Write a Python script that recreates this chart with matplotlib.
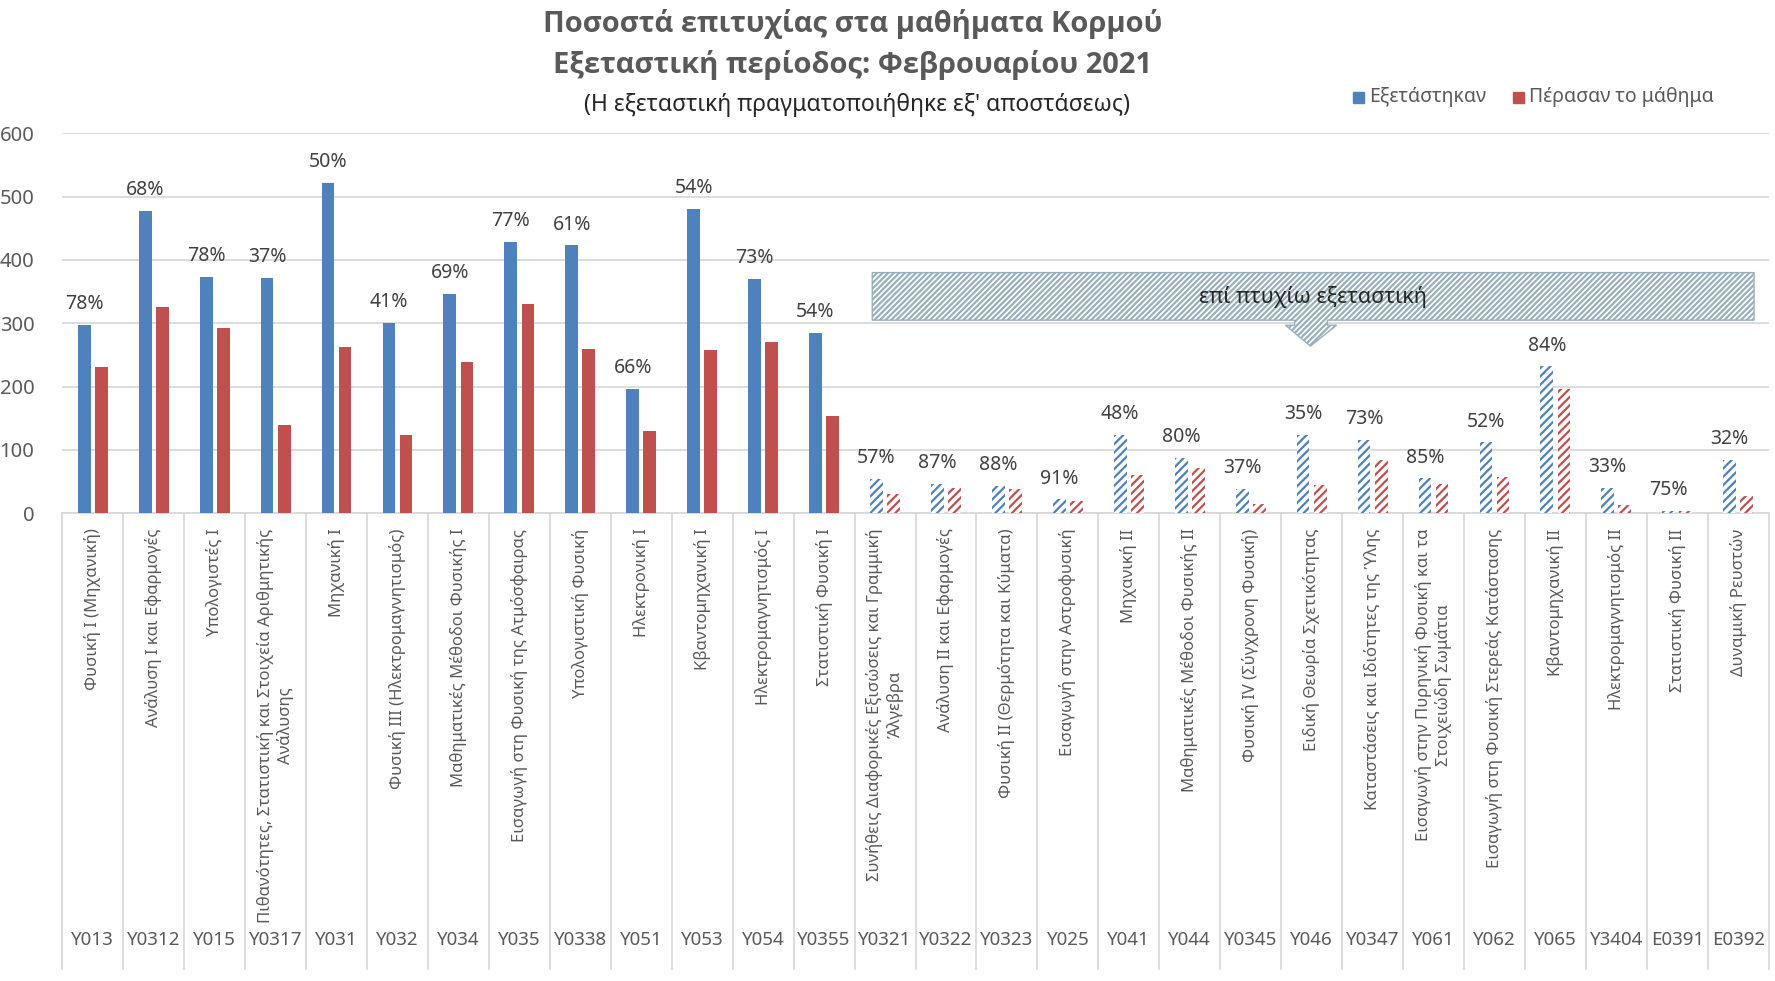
import matplotlib.pyplot as plt
from matplotlib.patches import Polygon, Rectangle
import matplotlib.transforms as mtransforms
import numpy as np

codes = ["Y013", "Y0312", "Y015", "Y0317", "Y031", "Y032", "Y034", "Y035",
         "Y0338", "Y051", "Y053", "Y054", "Y0355", "Y0321", "Y0322", "Y0323",
         "Y025", "Y041", "Y044", "Y0345", "Y046", "Y0347", "Y061", "Y062",
         "Y065", "Y3404", "E0391", "E0392"]
courses = [
    "Φυσική Ι (Μηχανική)",
    "Ανάλυση Ι και Εφαρμογές",
    "Υπολογιστές Ι",
    "Πιθανότητες, Στατιστική και Στοιχεία Αριθμητικής\nΑνάλυσης",
    "Μηχανική Ι",
    "Φυσική ΙΙΙ (Ηλεκτρομαγνητισμός)",
    "Μαθηματικές Μέθοδοι Φυσικής Ι",
    "Εισαγωγή στη Φυσική της Ατμόσφαιρας",
    "Υπολογιστική Φυσική",
    "Ηλεκτρονική Ι",
    "Κβαντομηχανική Ι",
    "Ηλεκτρομαγνητισμός Ι",
    "Στατιστική Φυσική Ι",
    "Συνήθεις Διαφορικές Εξισώσεις και Γραμμική\nΆλγεβρα",
    "Ανάλυση ΙΙ και Εφαρμογές",
    "Φυσική ΙΙ (Θερμότητα και Κύματα)",
    "Εισαγωγή στην Αστροφυσική",
    "Μηχανική ΙΙ",
    "Μαθηματικές Μέθοδοι Φυσικής ΙΙ",
    "Φυσική ΙV (Σύγχρονη Φυσική)",
    "Ειδική Θεωρία Σχετικότητας",
    "Καταστάσεις και Ιδιότητες της Ύλης",
    "Εισαγωγή στην Πυρηνική Φυσική και τα\nΣτοιχειώδη Σωμάτια",
    "Εισαγωγή στη Φυσική Στερεάς Κατάστασης",
    "Κβαντομηχανική ΙΙ",
    "Ηλεκτρομαγνητισμός ΙΙ",
    "Στατιστική Φυσική ΙΙ",
    "Δυναμική Ρευστών",
]
examined = [298, 478, 373, 372, 522, 301, 347, 428, 423, 196, 480, 370, 285,
            54, 46, 43, 22, 124, 88, 38, 124, 116, 55, 112, 232, 40, 4, 84]
passed = [231, 326, 292, 139, 262, 124, 239, 330, 259, 130, 258, 270, 153,
          30, 40, 38, 20, 60, 71, 14, 44, 84, 47, 58, 196, 13, 3, 27]
pct = [78, 68, 78, 37, 50, 41, 69, 77, 61, 66, 54, 73, 54,
       57, 87, 88, 91, 48, 80, 37, 35, 73, 85, 52, 84, 33, 75, 32]
n_regular = 13  # the rest are "επί πτυχίω"

BLUE = "#4F81BD"
RED = "#C0504D"
GRID = "#D9D9D9"
TXT = "#595959"

plt.rcParams['font.family'] = ['Noto Sans', 'DejaVu Sans']
plt.rcParams['hatch.linewidth'] = 1.6

W, H = 1775, 981
fig = plt.figure(figsize=(W / 100, H / 100), dpi=100)
ax = fig.add_axes([62.3 / W, 467.7 / H, 1706.4 / W, 380 / H])

x = np.arange(len(codes))
bw = 0.21
off = 0.14

ax.bar(x[:n_regular] - off, examined[:n_regular], bw, color=BLUE, zorder=3)
ax.bar(x[:n_regular] + off, passed[:n_regular], bw, color=RED, zorder=3)
ax.bar(x[n_regular:] - off, examined[n_regular:], bw, facecolor="white",
       edgecolor=BLUE, hatch="////", linewidth=0, zorder=3)
ax.bar(x[n_regular:] + off, passed[n_regular:], bw, facecolor="white",
       edgecolor=RED, hatch="////", linewidth=0, zorder=3)

for i in range(len(codes)):
    ax.annotate(f"{pct[i]}%", (x[i] - off, examined[i]), xytext=(0, 15),
                textcoords="offset points", ha="center", va="center",
                fontsize=14, color="#404040")

ax.set_xlim(-0.5, len(codes) - 0.5)
ax.set_ylim(0, 600)
ax.set_yticks(range(0, 601, 100))
ax.tick_params(axis="y", length=0, pad=20, labelsize=14.5, labelcolor=TXT)
ax.set_xticks([])
ax.grid(axis="y", color=GRID, linewidth=1.3, zorder=0)
for s in ["top", "right", "left"]:
    ax.spines[s].set_visible(False)
ax.spines["bottom"].set_color(GRID)
ax.spines["bottom"].set_linewidth(1.3)

# category box below the axis
trans = mtransforms.blended_transform_factory(ax.transData, ax.transAxes)
for b in np.arange(-0.5, len(codes), 1.0):
    ax.plot([b, b], [0, -1.20], transform=trans, color=GRID, lw=1.3,
            clip_on=False)
for i in range(len(codes)):
    ax.text(x[i], -0.04, courses[i], transform=trans, rotation=90,
            ha="center", va="top", multialignment="center", fontsize=12,
            color=TXT, linespacing=1.25)
    ax.text(x[i], -1.123, codes[i], transform=trans, ha="center",
            va="center", fontsize=13.5, color=TXT)

# callout "επί πτυχίω εξεταστική"
callout = [(12.79, 380), (27.26, 380), (27.26, 305), (20.26, 305),
           (20.26, 297), (20.41, 297), (19.98, 264), (19.57, 297),
           (19.72, 297), (19.72, 305), (12.79, 305)]
ax.add_patch(Polygon(callout, closed=True, facecolor="white",
                     edgecolor="#9AAFBE", hatch="//////", linewidth=1.0,
                     zorder=4))
ax.text(20.02, 342, "επί πτυχίω εξεταστική", ha="center", va="center",
        fontsize=15.5, color="#262626", zorder=5)

# titles
title_font = ['Open Sans', 'DejaVu Sans']
fig.text(853 / W, 1 - 24 / H, "Ποσοστά επιτυχίας στα μαθήματα Κορμού",
         ha="center", va="center", fontsize=21, fontweight="bold",
         color=TXT, family=title_font)
fig.text(853 / W, 1 - 65 / H, "Εξεταστική περίοδος: Φεβρουαρίου 2021",
         ha="center", va="center", fontsize=21, fontweight="bold",
         color=TXT, family=title_font)
fig.text(857 / W, 1 - 105 / H, "(Η εξεταστική πραγματοποιήθηκε εξ' αποστάσεως)",
         ha="center", va="center", fontsize=16.5, color="#262626")

# legend
for sx, tx, col, lab in [(1353, 1369, BLUE, "Εξετάστηκαν"),
                         (1513, 1529, RED, "Πέρασαν το μάθημα")]:
    fig.add_artist(Rectangle((sx / W, 1 - 103 / H), 11 / W, 11 / H,
                             transform=fig.transFigure, color=col))
    fig.text(tx / W, 1 - 97 / H, lab, ha="left", va="center",
             fontsize=14, color=TXT)

fig.savefig("out.png", dpi=100)
